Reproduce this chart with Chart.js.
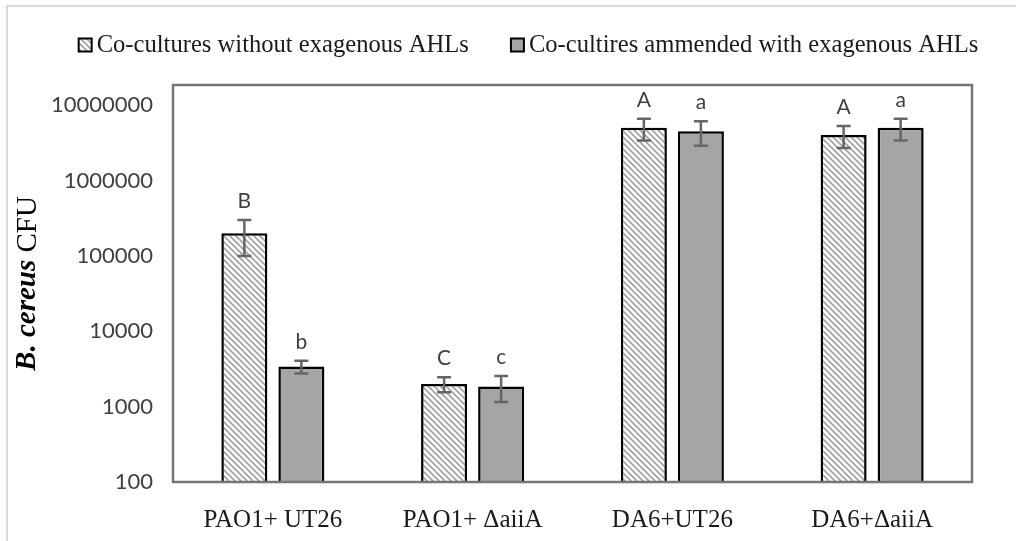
<!DOCTYPE html>
<html>
<head>
<meta charset="utf-8">
<script src="https://cdn.jsdelivr.net/npm/chart.js@4.4.1/dist/chart.umd.min.js"></script>
<style>
  html, body { margin: 0; padding: 0; background: #fff; overflow: hidden; }
  body { width: 1016px; height: 541px; position: relative; }
  .frame { position: absolute; left: 6px; top: 5px; width: 1100px; height: 600px;
           border-left: 2px solid #d9d9d9; border-top: 2px solid #d9d9d9; }
  .wrap { position: absolute; left: 8px; top: 8px; width: 1041px; height: 533px; }
</style>
</head>
<body>
<div class="frame"></div>
<div class="wrap"><canvas id="myChart"></canvas></div>
<script>
const categories = ['PAO1+ UT26', 'PAO1+ \u0394aiiA', 'DA6+UT26', 'DA6+\u0394aiiA'];
const seriesNames = ['Co-cultures without exagenous AHLs', 'Co-cultires ammended with exagenous AHLs'];

const withoutAHL = [200000, 2000, 5000000, 4000000];
const withoutErr = [100000, 450, 1600000, 1300000];
const withoutLetters = ['B', 'C', 'A', 'A'];

const withAHL = [3400, 1850, 4500000, 5000000];
const withErr = [650, 700, 1600000, 1600000];
const withLetters = ['b', 'c', 'a', 'a'];

const yTicks = [100, 1000, 10000, 100000, 1000000, 10000000];

// diagonal hatch like the excel pattern fill
function hatch() {
    const c = document.createElement('canvas');
    c.width = 6; c.height = 6;
    const g = c.getContext('2d');
    g.fillStyle = '#fff';
    g.fillRect(0, 0, 6, 6);
    g.strokeStyle = '#a3a3a3';
    g.lineWidth = 1.7;
    g.beginPath();
    g.moveTo(-1, -1); g.lineTo(7, 7);
    g.moveTo(-1, 5); g.lineTo(1, 7);
    g.moveTo(5, -1); g.lineTo(7, 1);
    g.stroke();
    return g.createPattern(c, 'repeat');
}

const errors = [withoutErr, withErr];
const letters = [withoutLetters, withLetters];

const extras = {
    id: 'extras',
    afterDatasetsDraw(chart) {
        const ctx = chart.ctx;
        const y = chart.scales.y;
        const a = chart.chartArea;
        ctx.save();

        // error bars + significance letters
        chart.data.datasets.forEach((ds, di) => {
            chart.getDatasetMeta(di).data.forEach((bar, i) => {
                const v = ds.data[i], e = errors[di][i];
                const top = y.getPixelForValue(v + e);
                const bot = y.getPixelForValue(v - e);
                ctx.strokeStyle = '#666';
                ctx.lineWidth = 2.5;
                ctx.beginPath();
                ctx.moveTo(bar.x, top); ctx.lineTo(bar.x, bot);
                ctx.moveTo(bar.x - 7, top); ctx.lineTo(bar.x + 7, top);
                ctx.moveTo(bar.x - 7, bot); ctx.lineTo(bar.x + 7, bot);
                ctx.stroke();

                ctx.fillStyle = '#404040';
                ctx.font = '21px Lato';
                ctx.textAlign = 'center';
                ctx.textBaseline = 'alphabetic';
                ctx.fillText(letters[di][i], bar.x, top - 12);
            });
        });

        // plot area border
        ctx.strokeStyle = '#767676';
        ctx.lineWidth = 2.5;
        ctx.strokeRect(a.left, a.top, a.right - a.left, a.bottom - a.top);

        // y title, mixed styles
        ctx.translate(20, (a.top + a.bottom) / 2);
        ctx.rotate(-Math.PI / 2);
        ctx.fillStyle = '#000';
        ctx.textBaseline = 'middle';
        ctx.textAlign = 'left';
        const p1 = 'B. cereus ', p2 = 'CFU';
        const f1 = 'italic bold 29px "Liberation Serif"', f2 = '29px "Liberation Serif"';
        ctx.font = f1; const w1 = ctx.measureText(p1).width;
        ctx.font = f2; const w2 = ctx.measureText(p2).width;
        let x = -(w1 + w2) / 2;
        ctx.font = f1; ctx.fillText(p1, x, 0);
        ctx.font = f2; ctx.fillText(p2, x + w1, 0);
        ctx.restore();
    },
    afterDraw(chart) {
        // legend drawn by hand so the spacing matches excel
        const ctx = chart.ctx;
        ctx.save();
        ctx.font = '24.6px "Liberation Serif"';
        const box = 13, gap = 5, itemGap = 42, cy = 37;
        const widths = chart.data.datasets.map(ds => ctx.measureText(ds.label).width);
        const total = widths.reduce((s, w) => s + box + gap + w, 0) + itemGap;
        let x = chart.width / 2 - total / 2;
        chart.data.datasets.forEach((ds, i) => {
            ctx.fillStyle = ds.backgroundColor;
            ctx.fillRect(x, cy - box / 2, box, box);
            ctx.strokeStyle = '#000';
            ctx.lineWidth = 2;
            ctx.strokeRect(x, cy - box / 2, box, box);
            ctx.fillStyle = '#1a1a1a';
            ctx.textBaseline = 'middle';
            ctx.fillText(ds.label, x + box + gap, cy + 1);
            x += box + gap + widths[i] + itemGap;
        });
        ctx.restore();
    }
};

const data = {
    labels: categories,
    datasets: [{
        label: seriesNames[0],
        data: withoutAHL,
        backgroundColor: hatch(),
        borderColor: '#000',
        borderWidth: 2.5
    }, {
        label: seriesNames[1],
        data: withAHL,
        backgroundColor: '#a5a5a5',
        borderColor: '#000',
        borderWidth: 2.5
    }]
};

const config = {
    type: 'bar',
    data: data,
    options: {
        responsive: true,
        maintainAspectRatio: false,
        animation: false,
        categoryPercentage: 0.571,
        barPercentage: 0.807,
        layout: { padding: { top: 77, right: 77, left: 0, bottom: 0 } },
        scales: {
            x: {
                grid: { display: false },
                border: { display: false },
                ticks: {
                    padding: 15,
                    color: '#1a1a1a',
                    font: { family: 'Liberation Serif', size: 25 }
                },
                afterFit: s => { s.height = 59; }
            },
            y: {
                type: 'logarithmic',
                min: 100,
                max: Math.pow(10, 7.267),
                grid: { display: false, drawTicks: false },
                border: { display: false },
                afterBuildTicks: s => { s.ticks = yTicks.map(v => ({ value: v })); },
                afterFit: s => { s.width = 165; },
                ticks: {
                    padding: 20,
                    color: '#404040',
                    font: { family: 'Lato', size: 22 },
                    callback: v => String(v)
                }
            }
        },
        plugins: {
            legend: { display: false },
            tooltip: { enabled: false }
        }
    },
    plugins: [extras]
};

const myChart = new Chart(document.getElementById('myChart'), config);
</script>
</body>
</html>
